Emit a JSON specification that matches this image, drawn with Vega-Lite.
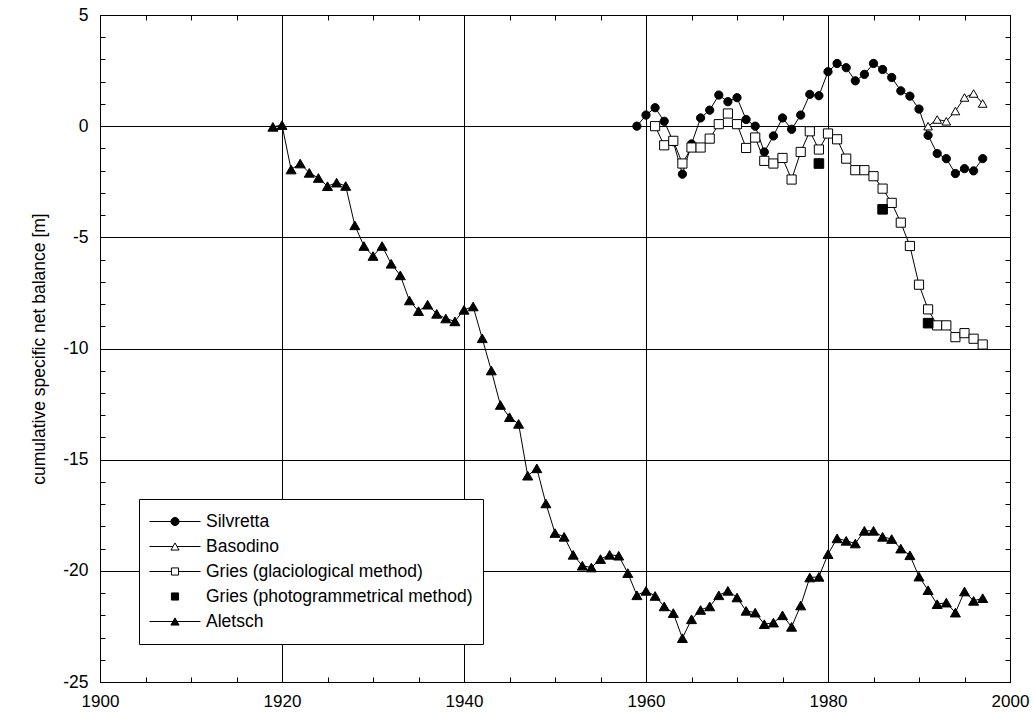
{
  "$schema": "https://vega.github.io/schema/vega-lite/v6.json",
  "width": 910,
  "height": 667,
  "autosize": {"type": "none"},
  "padding": {"left": 100, "top": 15, "right": 24, "bottom": 30},
  "background": "white",
  "config": {
    "view": {"stroke": "black", "strokeWidth": 1},
    "font": "Liberation Sans",
    "axis": {"labelFont": "Liberation Sans", "labelColor": "black", "titleFont": "Liberation Sans", "titleColor": "black", "tickColor": "black", "gridColor": "black", "gridOpacity": 1, "gridWidth": 1, "domain": false}
  },
  "data": {
    "values": [
      {"series": "Silvretta", "year": 1959, "value": 0.0},
      {"series": "Silvretta", "year": 1960, "value": 0.5},
      {"series": "Silvretta", "year": 1961, "value": 0.83},
      {"series": "Silvretta", "year": 1962, "value": 0.22},
      {"series": "Silvretta", "year": 1963, "value": -0.7},
      {"series": "Silvretta", "year": 1964, "value": -2.16},
      {"series": "Silvretta", "year": 1965, "value": -0.8},
      {"series": "Silvretta", "year": 1966, "value": 0.37},
      {"series": "Silvretta", "year": 1967, "value": 0.72},
      {"series": "Silvretta", "year": 1968, "value": 1.4},
      {"series": "Silvretta", "year": 1969, "value": 1.1},
      {"series": "Silvretta", "year": 1970, "value": 1.28},
      {"series": "Silvretta", "year": 1971, "value": 0.3},
      {"series": "Silvretta", "year": 1972, "value": 0.0},
      {"series": "Silvretta", "year": 1973, "value": -1.16},
      {"series": "Silvretta", "year": 1974, "value": -0.44},
      {"series": "Silvretta", "year": 1975, "value": 0.37},
      {"series": "Silvretta", "year": 1976, "value": -0.14},
      {"series": "Silvretta", "year": 1977, "value": 0.5},
      {"series": "Silvretta", "year": 1978, "value": 1.43},
      {"series": "Silvretta", "year": 1979, "value": 1.37},
      {"series": "Silvretta", "year": 1980, "value": 2.45},
      {"series": "Silvretta", "year": 1981, "value": 2.82},
      {"series": "Silvretta", "year": 1982, "value": 2.63},
      {"series": "Silvretta", "year": 1983, "value": 2.04},
      {"series": "Silvretta", "year": 1984, "value": 2.33},
      {"series": "Silvretta", "year": 1985, "value": 2.82},
      {"series": "Silvretta", "year": 1986, "value": 2.55},
      {"series": "Silvretta", "year": 1987, "value": 2.19},
      {"series": "Silvretta", "year": 1988, "value": 1.59},
      {"series": "Silvretta", "year": 1989, "value": 1.35},
      {"series": "Silvretta", "year": 1990, "value": 0.77},
      {"series": "Silvretta", "year": 1991, "value": -0.41},
      {"series": "Silvretta", "year": 1992, "value": -1.23},
      {"series": "Silvretta", "year": 1993, "value": -1.46},
      {"series": "Silvretta", "year": 1994, "value": -2.13},
      {"series": "Silvretta", "year": 1995, "value": -1.91},
      {"series": "Silvretta", "year": 1996, "value": -2.01},
      {"series": "Silvretta", "year": 1997, "value": -1.46},
      {"series": "Basodino", "year": 1991, "value": 0.0},
      {"series": "Basodino", "year": 1992, "value": 0.3},
      {"series": "Basodino", "year": 1993, "value": 0.22},
      {"series": "Basodino", "year": 1994, "value": 0.68},
      {"series": "Basodino", "year": 1995, "value": 1.29},
      {"series": "Basodino", "year": 1996, "value": 1.47},
      {"series": "Basodino", "year": 1997, "value": 1.02},
      {"series": "Gries (glaciological method)", "year": 1961, "value": 0.0},
      {"series": "Gries (glaciological method)", "year": 1962, "value": -0.86},
      {"series": "Gries (glaciological method)", "year": 1963, "value": -0.66},
      {"series": "Gries (glaciological method)", "year": 1964, "value": -1.68},
      {"series": "Gries (glaciological method)", "year": 1965, "value": -0.96},
      {"series": "Gries (glaciological method)", "year": 1966, "value": -0.96},
      {"series": "Gries (glaciological method)", "year": 1967, "value": -0.56},
      {"series": "Gries (glaciological method)", "year": 1968, "value": 0.09},
      {"series": "Gries (glaciological method)", "year": 1969, "value": 0.57},
      {"series": "Gries (glaciological method)", "year": 1970, "value": 0.09},
      {"series": "Gries (glaciological method)", "year": 1971, "value": -0.98},
      {"series": "Gries (glaciological method)", "year": 1972, "value": -0.51},
      {"series": "Gries (glaciological method)", "year": 1973, "value": -1.56},
      {"series": "Gries (glaciological method)", "year": 1974, "value": -1.68},
      {"series": "Gries (glaciological method)", "year": 1975, "value": -1.43},
      {"series": "Gries (glaciological method)", "year": 1976, "value": -2.4},
      {"series": "Gries (glaciological method)", "year": 1977, "value": -1.16},
      {"series": "Gries (glaciological method)", "year": 1978, "value": -0.23},
      {"series": "Gries (glaciological method)", "year": 1979, "value": -1.05},
      {"series": "Gries (glaciological method)", "year": 1980, "value": -0.33},
      {"series": "Gries (glaciological method)", "year": 1981, "value": -0.59},
      {"series": "Gries (glaciological method)", "year": 1982, "value": -1.46},
      {"series": "Gries (glaciological method)", "year": 1983, "value": -1.98},
      {"series": "Gries (glaciological method)", "year": 1984, "value": -1.98},
      {"series": "Gries (glaciological method)", "year": 1985, "value": -2.25},
      {"series": "Gries (glaciological method)", "year": 1986, "value": -2.81},
      {"series": "Gries (glaciological method)", "year": 1987, "value": -3.45},
      {"series": "Gries (glaciological method)", "year": 1988, "value": -4.34},
      {"series": "Gries (glaciological method)", "year": 1989, "value": -5.39},
      {"series": "Gries (glaciological method)", "year": 1990, "value": -7.13},
      {"series": "Gries (glaciological method)", "year": 1991, "value": -8.24},
      {"series": "Gries (glaciological method)", "year": 1992, "value": -8.96},
      {"series": "Gries (glaciological method)", "year": 1993, "value": -8.96},
      {"series": "Gries (glaciological method)", "year": 1994, "value": -9.49},
      {"series": "Gries (glaciological method)", "year": 1995, "value": -9.31},
      {"series": "Gries (glaciological method)", "year": 1996, "value": -9.56},
      {"series": "Gries (glaciological method)", "year": 1997, "value": -9.82},
      {"series": "Gries (photogrammetrical method)", "year": 1979, "value": -1.68},
      {"series": "Gries (photogrammetrical method)", "year": 1986, "value": -3.74},
      {"series": "Gries (photogrammetrical method)", "year": 1991, "value": -8.86},
      {"series": "Aletsch", "year": 1919, "value": -0.03},
      {"series": "Aletsch", "year": 1920, "value": 0.05},
      {"series": "Aletsch", "year": 1921, "value": -1.95},
      {"series": "Aletsch", "year": 1922, "value": -1.68},
      {"series": "Aletsch", "year": 1923, "value": -2.1},
      {"series": "Aletsch", "year": 1924, "value": -2.33},
      {"series": "Aletsch", "year": 1925, "value": -2.7},
      {"series": "Aletsch", "year": 1926, "value": -2.54},
      {"series": "Aletsch", "year": 1927, "value": -2.69},
      {"series": "Aletsch", "year": 1928, "value": -4.46},
      {"series": "Aletsch", "year": 1929, "value": -5.39},
      {"series": "Aletsch", "year": 1930, "value": -5.84},
      {"series": "Aletsch", "year": 1931, "value": -5.39},
      {"series": "Aletsch", "year": 1932, "value": -6.19},
      {"series": "Aletsch", "year": 1933, "value": -6.71},
      {"series": "Aletsch", "year": 1934, "value": -7.84},
      {"series": "Aletsch", "year": 1935, "value": -8.32},
      {"series": "Aletsch", "year": 1936, "value": -8.03},
      {"series": "Aletsch", "year": 1937, "value": -8.44},
      {"series": "Aletsch", "year": 1938, "value": -8.65},
      {"series": "Aletsch", "year": 1939, "value": -8.78},
      {"series": "Aletsch", "year": 1940, "value": -8.26},
      {"series": "Aletsch", "year": 1941, "value": -8.11},
      {"series": "Aletsch", "year": 1942, "value": -9.54},
      {"series": "Aletsch", "year": 1943, "value": -10.99},
      {"series": "Aletsch", "year": 1944, "value": -12.54},
      {"series": "Aletsch", "year": 1945, "value": -13.09},
      {"series": "Aletsch", "year": 1946, "value": -13.39},
      {"series": "Aletsch", "year": 1947, "value": -15.72},
      {"series": "Aletsch", "year": 1948, "value": -15.39},
      {"series": "Aletsch", "year": 1949, "value": -16.97},
      {"series": "Aletsch", "year": 1950, "value": -18.3},
      {"series": "Aletsch", "year": 1951, "value": -18.47},
      {"series": "Aletsch", "year": 1952, "value": -19.28},
      {"series": "Aletsch", "year": 1953, "value": -19.77},
      {"series": "Aletsch", "year": 1954, "value": -19.85},
      {"series": "Aletsch", "year": 1955, "value": -19.47},
      {"series": "Aletsch", "year": 1956, "value": -19.28},
      {"series": "Aletsch", "year": 1957, "value": -19.32},
      {"series": "Aletsch", "year": 1958, "value": -20.1},
      {"series": "Aletsch", "year": 1959, "value": -21.1},
      {"series": "Aletsch", "year": 1960, "value": -20.9},
      {"series": "Aletsch", "year": 1961, "value": -21.13},
      {"series": "Aletsch", "year": 1962, "value": -21.6},
      {"series": "Aletsch", "year": 1963, "value": -21.9},
      {"series": "Aletsch", "year": 1964, "value": -23.03},
      {"series": "Aletsch", "year": 1965, "value": -22.18},
      {"series": "Aletsch", "year": 1966, "value": -21.76},
      {"series": "Aletsch", "year": 1967, "value": -21.6},
      {"series": "Aletsch", "year": 1968, "value": -21.1},
      {"series": "Aletsch", "year": 1969, "value": -20.9},
      {"series": "Aletsch", "year": 1970, "value": -21.2},
      {"series": "Aletsch", "year": 1971, "value": -21.8},
      {"series": "Aletsch", "year": 1972, "value": -21.88},
      {"series": "Aletsch", "year": 1973, "value": -22.4},
      {"series": "Aletsch", "year": 1974, "value": -22.33},
      {"series": "Aletsch", "year": 1975, "value": -22.0},
      {"series": "Aletsch", "year": 1976, "value": -22.52},
      {"series": "Aletsch", "year": 1977, "value": -21.56},
      {"series": "Aletsch", "year": 1978, "value": -20.3},
      {"series": "Aletsch", "year": 1979, "value": -20.27},
      {"series": "Aletsch", "year": 1980, "value": -19.25},
      {"series": "Aletsch", "year": 1981, "value": -18.54},
      {"series": "Aletsch", "year": 1982, "value": -18.65},
      {"series": "Aletsch", "year": 1983, "value": -18.77},
      {"series": "Aletsch", "year": 1984, "value": -18.2},
      {"series": "Aletsch", "year": 1985, "value": -18.2},
      {"series": "Aletsch", "year": 1986, "value": -18.47},
      {"series": "Aletsch", "year": 1987, "value": -18.57},
      {"series": "Aletsch", "year": 1988, "value": -19.0},
      {"series": "Aletsch", "year": 1989, "value": -19.3},
      {"series": "Aletsch", "year": 1990, "value": -20.26},
      {"series": "Aletsch", "year": 1991, "value": -20.87},
      {"series": "Aletsch", "year": 1992, "value": -21.5},
      {"series": "Aletsch", "year": 1993, "value": -21.43},
      {"series": "Aletsch", "year": 1994, "value": -21.88},
      {"series": "Aletsch", "year": 1995, "value": -20.93},
      {"series": "Aletsch", "year": 1996, "value": -21.35},
      {"series": "Aletsch", "year": 1997, "value": -21.23}
    ]
  },
  "resolve": {
    "axis": {"x": "independent", "y": "independent"},
    "scale": {"shape": "independent", "fill": "independent"}
  },
  "layer": [
    {
      "transform": [{"filter": "datum.series !== 'Gries (photogrammetrical method)'"}],
      "mark": {"type": "line", "stroke": "black", "strokeWidth": 1},
      "encoding": {
        "x": {
          "field": "year", "type": "quantitative",
          "scale": {"domain": [1900, 2000], "nice": false, "zero": false},
          "axis": {"orient": "bottom", "values": [1900, 1920, 1940, 1960, 1980, 2000], "format": "d", "grid": true, "ticks": false, "labelPadding": 11, "labelFontSize": 17, "labelFlush": false, "labelOverlap": false, "title": null}
        },
        "y": {
          "field": "value", "type": "quantitative",
          "scale": {"domain": [-25, 5], "nice": false, "zero": false},
          "axis": {"orient": "left", "values": [-25, -20, -15, -10, -5, 0, 5], "labelExpr": "datum.value < 0 ? '-' + abs(datum.value) : '' + datum.value", "grid": true, "ticks": false, "labelPadding": 12, "labelFontSize": 17.5, "labelFlush": false, "labelOverlap": false, "title": "cumulative specific net balance [m]", "titleFontSize": 17.5, "titleFontWeight": "normal", "titlePadding": 14}
        },
        "detail": {"field": "series", "type": "nominal"}
      }
    },
    {
      "mark": {"type": "point", "filled": true, "stroke": "black", "strokeWidth": 1, "opacity": 1},
      "encoding": {
        "x": {
          "field": "year", "type": "quantitative",
          "axis": {"orient": "top", "values": [1900, 1905, 1910, 1915, 1920, 1925, 1930, 1935, 1940, 1945, 1950, 1955, 1960, 1965, 1970, 1975, 1980, 1985, 1990, 1995, 2000], "labels": false, "ticks": true, "tickSize": -5, "grid": false, "title": null}
        },
        "y": {
          "field": "value", "type": "quantitative",
          "axis": {"orient": "right", "values": [-25, -24, -23, -22, -21, -20, -19, -18, -17, -16, -15, -14, -13, -12, -11, -10, -9, -8, -7, -6, -5, -4, -3, -2, -1, 0, 1, 2, 3, 4, 5], "labels": false, "ticks": true, "tickSize": -5, "grid": false, "title": null}
        },
        "shape": {
          "field": "series", "type": "nominal",
          "scale": {"domain": ["Silvretta", "Basodino", "Gries (glaciological method)", "Gries (photogrammetrical method)", "Aletsch"], "range": ["circle", "triangle-up", "square", "square", "triangle-up"]},
          "legend": null
        },
        "fill": {
          "field": "series", "type": "nominal",
          "scale": {"domain": ["Silvretta", "Basodino", "Gries (glaciological method)", "Gries (photogrammetrical method)", "Aletsch"], "range": ["black", "white", "white", "black", "black"]},
          "legend": null
        },
        "size": {
          "field": "series", "type": "nominal",
          "scale": {"domain": ["Silvretta", "Basodino", "Gries (glaciological method)", "Gries (photogrammetrical method)", "Aletsch"], "range": [68, 100, 72, 72, 100]},
          "legend": null
        }
      }
    },
    {
      "mark": {"type": "point", "filled": true, "stroke": "black", "strokeWidth": 1, "opacity": 0},
      "encoding": {
        "x": {
          "field": "year", "type": "quantitative",
          "axis": {"orient": "bottom", "values": [1900, 1905, 1910, 1915, 1920, 1925, 1930, 1935, 1940, 1945, 1950, 1955, 1960, 1965, 1970, 1975, 1980, 1985, 1990, 1995, 2000], "labels": false, "ticks": true, "tickSize": -5, "grid": false, "title": null}
        },
        "y": {
          "field": "value", "type": "quantitative",
          "axis": {"orient": "left", "values": [-25, -24, -23, -22, -21, -20, -19, -18, -17, -16, -15, -14, -13, -12, -11, -10, -9, -8, -7, -6, -5, -4, -3, -2, -1, 0, 1, 2, 3, 4, 5], "labels": false, "ticks": true, "tickSize": -5, "grid": false, "title": null}
        },
        "shape": {
          "field": "series", "type": "nominal",
          "scale": {"domain": ["Silvretta", "Basodino", "Gries (glaciological method)", "Gries (photogrammetrical method)", "Aletsch"], "range": [
            "M-1,0L1,0M0.16,0A0.16,0.16 0 1,1 -0.16,0A0.16,0.16 0 1,1 0.16,0Z",
            "M-1,0L-0.08,0M0.08,0L1,0M0,-0.14L-0.16,0.14L0.16,0.14Z",
            "M-1,0L-0.14,0M0.14,0L1,0M-0.14,-0.14L0.14,-0.14L0.14,0.14L-0.14,0.14Z",
            "M-0.14,-0.14L0.14,-0.14L0.14,0.14L-0.14,0.14Z",
            "M-1,0L1,0M0,-0.14L-0.16,0.14L0.16,0.14Z"
          ]},
          "legend": {"title": null, "orient": "none", "legendX": 39, "legendY": 484, "padding": 10, "strokeColor": "black", "fillColor": "white", "symbolSize": 2601, "symbolStrokeWidth": 1, "symbolOpacity": 1, "clipHeight": 25, "rowPadding": 0, "labelOffset": 5, "labelFontSize": 17.5, "labelFont": "Liberation Sans", "labelColor": "black", "labelLimit": 500}
        },
        "fill": {
          "field": "series", "type": "nominal",
          "scale": {"domain": ["Silvretta", "Basodino", "Gries (glaciological method)", "Gries (photogrammetrical method)", "Aletsch"], "range": ["black", "white", "white", "black", "black"]},
          "legend": {"title": null, "orient": "none", "legendX": 39, "legendY": 484, "padding": 10, "strokeColor": "black", "fillColor": "white", "symbolSize": 2601, "symbolStrokeWidth": 1, "symbolOpacity": 1, "clipHeight": 25, "rowPadding": 0, "labelOffset": 5, "labelFontSize": 17.5, "labelFont": "Liberation Sans", "labelColor": "black", "labelLimit": 500}
        }
      }
    }
  ]
}
